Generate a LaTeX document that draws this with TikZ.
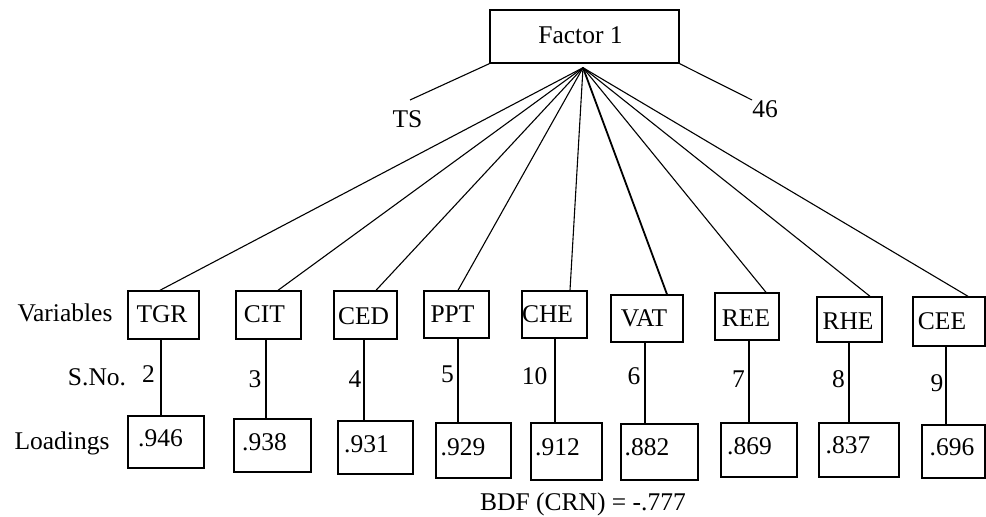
\documentclass[tikz,border=0pt]{standalone}
\usepackage{fontspec}
\setmainfont{Liberation Serif}
\newcommand\txs[3]{\raisebox{#2}[\height][\depth]{\hspace*{#1}#3\hspace*{-#1}}}
\begin{document}
\begin{tikzpicture}[x=1pt,y=-1pt,
  every node/.append style={font=\fontsize{25.5}{29}\selectfont},
  box/.style={draw, line width=1.4pt, inner sep=0pt, text height=17pt, text depth=0pt},
  lbl/.style={inner sep=0pt, text height=17pt, text depth=0pt},
  link/.style={line width=1.1pt}]
\useasboundingbox (0,0) rectangle (986,517);

% top factor box
\node[box, minimum width=189, minimum height=53] (f) at (584.5,36.5) {\txs{-4pt}{1.5pt}{Factor 1}};
\coordinate (apex) at ([shift={(-1.5,4)}]f.south);

% variable boxes
\node[box, minimum width=71, minimum height=48] (tgr) at (163.5,315) {\txs{-1.5pt}{1.5pt}{TGR}};
\node[box, minimum width=65, minimum height=48] (cit) at (268.5,315) {\txs{-4pt}{1.5pt}{CIT}};
\node[box, minimum width=63, minimum height=48] (ced) at (365.5,315) {\txs{-2pt}{-1pt}{CED}};
\node[box, minimum width=65, minimum height=47] (ppt) at (456.5,314.5) {\txs{-4pt}{1pt}{PPT}};
\node[box, minimum width=65, minimum height=47] (che) at (554.5,314.5) {\txs{-7pt}{1pt}{CHE}};
\node[box, minimum width=72, minimum height=47] (vat) at (647,318.5) {\txs{-3pt}{1pt}{VAT}};
\node[box, minimum width=64, minimum height=47] (ree) at (747,316.5) {\txs{-1pt}{-1pt}{REE}};
\node[box, minimum width=65, minimum height=45] (rhe) at (849.5,319.5) {\txs{-1.5pt}{-1pt}{RHE}};
\node[box, minimum width=72, minimum height=49] (cee) at (949,321.5) {\txs{-7pt}{1pt}{CEE}};

% loading boxes
\node[box, minimum width=76, minimum height=52] (l1) at (166,442) {\txs{-5.5pt}{4pt}{.946}};
\node[box, minimum width=77, minimum height=53] (l2) at (272.5,445.5) {\txs{-8pt}{3.5pt}{.938}};
\node[box, minimum width=75, minimum height=53] (l3) at (375.5,447.5) {\txs{-9pt}{3.5pt}{.931}};
\node[box, minimum width=75, minimum height=55] (l4) at (473.5,450.5) {\txs{-10.5pt}{3.5pt}{.929}};
\node[box, minimum width=71, minimum height=57] (l5) at (566.5,451.5) {\txs{-9pt}{4.5pt}{.912}};
\node[box, minimum width=77, minimum height=56] (l6) at (659.5,452) {\txs{-12.5pt}{5pt}{.882}};
\node[box, minimum width=76, minimum height=54] (l7) at (759,450) {\txs{-9.5pt}{4pt}{.869}};
\node[box, minimum width=80, minimum height=54] (l8) at (859,450) {\txs{-11pt}{5.5pt}{.837}};
\node[box, minimum width=63, minimum height=53] (l9) at (953.5,451.5) {\txs{-1.5pt}{4.5pt}{.696}};

% row labels
\node[lbl] (var) at (65,313) {Variables};
\node[lbl] (sno) at (97,377) {S.No.};
\node[lbl] (load) at (62,441) {Loadings};

% serial numbers
\node[lbl] (s2) at (148.5,374) {2};
\node[lbl] (s3) at (255,379) {3};
\node[lbl] (s4) at (355,378.5) {4};
\node[lbl] (s5) at (447.5,374) {5};
\node[lbl] (s10) at (534.5,376) {10};
\node[lbl] (s6) at (634,375.5) {6};
\node[lbl] (s7) at (738.5,378.5) {7};
\node[lbl] (s8) at (838.5,378.5) {8};
\node[lbl] (s9) at (937,382.5) {9};

% other texts
\node[lbl] (ts) at (407.5,119) {TS};
\node[lbl] (n46) at (765,109) {46};
\node[lbl] (bdf) at (583,502) {BDF (CRN) = -.777};

% side lines of the factor box
\coordinate (tsend) at (410,100);
\coordinate (e46) at (752,100);
\draw[link] (f.south west) -- (tsend);
\draw[link] (f.south east) -- (e46);

% fan of lines
\foreach \n/\d in {tgr/-3.5, cit/9.5, ced/10.5, ppt/1.5, che/15.5, ree/19, rhe/20.5, cee/19}
  \draw[link] (apex) -- ([xshift=\d]\n.north);
\draw[line width=1.8pt] (apex) -- ([xshift=20]vat.north);

% verticals from variable to loading
\foreach \v/\l/\d in {tgr/l1/-2.5, cit/l2/-2.5, ced/l3/-1.5, ppt/l4/1.5, che/l5/0.5, vat/l6/-2, ree/l7/2, rhe/l8/-0.5, cee/l9/-3}
  \draw[link] ([xshift=\d]\v.south) -- ([xshift=\d]\v.south |- \l.north);
\end{tikzpicture}
\end{document}
